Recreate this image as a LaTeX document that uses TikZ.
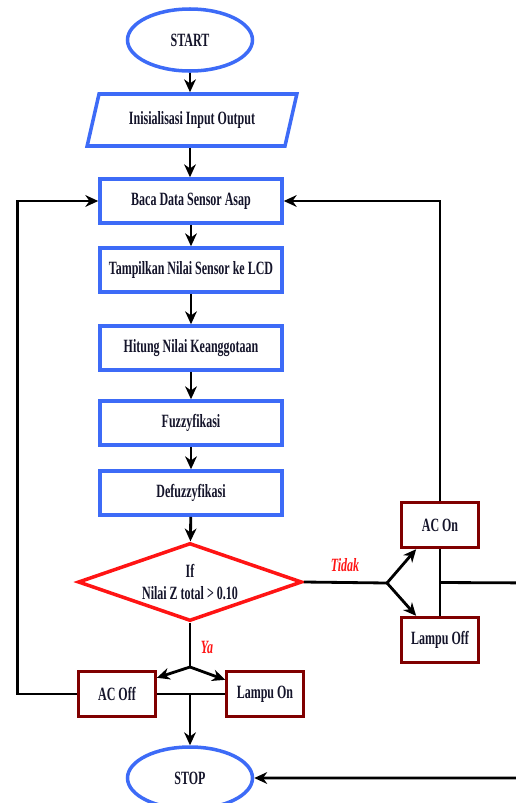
\documentclass[tikz,border=0pt]{standalone}
\usepackage{fontspec}
\setmainfont{Liberation Serif}[FakeStretch=0.64]
\usetikzlibrary{arrows.meta,shapes.geometric,calc}
\definecolor{Bc}{HTML}{3D6BF7}
\definecolor{Rc}{HTML}{FF1414}
\definecolor{Mc}{HTML}{800000}
\definecolor{Tc}{HTML}{14142A}
\tikzset{
  term/.style={ellipse, draw=Bc, line width=3pt, minimum width=3.75cm, minimum height=1.86cm, inner sep=0pt},
  io/.style={trapezium, trapezium left angle=71, trapezium right angle=109, trapezium stretches=true, draw=Bc, line width=3pt, minimum width=6.3cm, minimum height=1.56cm},
  proc/.style={rectangle, draw=Bc, line width=3pt, minimum width=5.46cm, minimum height=1.32cm},
  cond/.style={diamond, draw=Rc, line width=3pt, aspect=2.87, minimum width=6.72cm, minimum height=2.34cm, inner sep=0pt, align=center},
  act/.style={rectangle, draw=Mc, line width=2.6pt, minimum width=2.3cm, minimum height=1.36cm},
  link/.style={-{Stealth[length=11pt, width=10pt, inset=3.5pt]}, line width=2.4pt},
  wire/.style={line width=2.4pt},
  lbl/.style={text=Rc, font=\fontsize{16}{19}\selectfont\bfseries\itshape},
}

\begin{document}
\begin{tikzpicture}[x=0.03cm, y=-0.03cm, font=\fontsize{16}{19}\selectfont\bfseries, text=Tc]
  \useasboundingbox (0,0) rectangle (516,803);
  \clip (0,0) rectangle (516,803);
  \node[term] (start) at (190,40) {START};
  \node[io] (init) at (192,120) {Inisialisasi Input Output};
  \node[proc] (baca) at (191,201) {Baca Data Sensor Asap};
  \node[proc] (tampil) at (191,270) {Tampilkan Nilai Sensor ke LCD};
  \node[proc] (hitung) at (191,348) {Hitung Nilai Keanggotaan};
  \node[proc] (fuzzy) at (191,423) {Fuzzyfikasi};
  \node[proc] (defuzzy) at (191,493) {Defuzzyfikasi};
  \node[cond] (cek) at (190,582) {If\\Nilai Z total > 0.10};
  \node[act] (acon) at (440,525) {AC On};
  \node[act] (lampuoff) at (440,640) {Lampu Off};
  \node[act] (acoff) at (117,694) {AC Off};
  \node[act] (lampuon) at (265,694) {Lampu On};
  \node[term] (stop) at (190,778) {STOP};
  \draw[link] (start) -- (start |- init.north);
  \draw[link] (start |- init.south) -- (start |- baca.north);
  \foreach \a/\b in {baca/tampil,tampil/hitung,hitung/fuzzy,fuzzy/defuzzy,defuzzy/cek}
    \draw[link] (\a) -- (\b);
  % tidak
  \draw[wire] (cek.east) -- (387,583) coordinate (tfork);
  \draw[link] (tfork) -- ($(acon.south west)+(16,0)$);
  \draw[link] (tfork) -- ($(lampuoff.north west)+(16,0)$);
  \node[lbl] (tidak) at (345,565) {Tidak};
  \draw[link] (acon.north) |- (baca.east);
  \draw[wire] (acon.south) -- (lampuoff.north);
  \draw[link] ($(acon.south)!0.5!(lampuoff.north)$) -- (545,583) |- (stop.east);
  % ya
  \draw[wire] (cek.south) -- (190,667) coordinate (yfork);
  \draw[link] (yfork) -- ($(acoff.north east)+(0,8)$);
  \draw[link] (yfork) -- ($(lampuon.north west)+(0,10)$);
  \node[lbl] (ya) at (207,647) {Ya};
  \draw[wire] (acoff.east) -- (lampuon.west);
  \draw[link] (yfork |- acoff.east) -- (stop.north);
  \draw[link] (acoff.west) -- ++(-60,0) |- (baca.west);
\end{tikzpicture}
\end{document}
